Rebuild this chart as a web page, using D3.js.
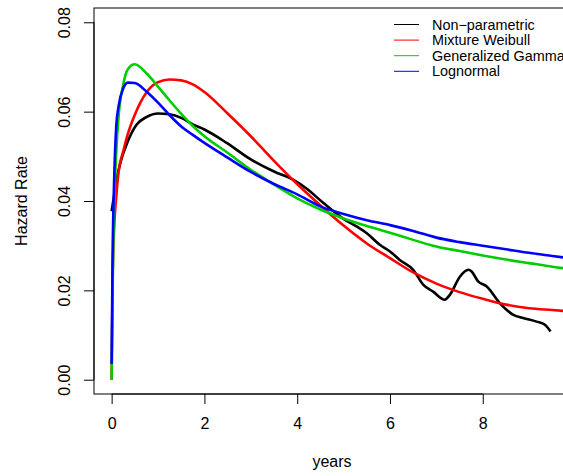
<!DOCTYPE html>
<html>
<head>
<meta charset="utf-8">
<script src="https://cdn.jsdelivr.net/npm/d3@7"></script>
<style>
  body { margin: 0; background: #fff; }
  text { font-family: "Liberation Sans", Arial, Helvetica, sans-serif; fill: #000; }
</style>
</head>
<body>
<div id="chart"></div>
<script>
// grid shared by the parametric fits
var parYears = [0, 0.02, 0.05, 0.1, 0.15, 0.25, 0.35, 0.5, 0.75, 1, 1.25, 1.5, 1.75, 2, 2.5, 3, 3.5, 4, 4.5, 5, 5.5, 6, 6.5, 7, 7.5, 8, 8.5, 9, 9.5, 10];
var weibullHazard = [0, 0.022, 0.033, 0.041, 0.0465, 0.0511, 0.055, 0.0593, 0.0643, 0.0666, 0.0672, 0.067, 0.0661, 0.0644, 0.0596, 0.0545, 0.049, 0.0438, 0.039, 0.0345, 0.0305, 0.0272, 0.024, 0.0215, 0.0196, 0.0181, 0.0168, 0.016, 0.0156, 0.0152];
var gammaHazard = [0, 0.02, 0.037, 0.051, 0.059, 0.0661, 0.0695, 0.0706, 0.0686, 0.0656, 0.0625, 0.0595, 0.0568, 0.0545, 0.0508, 0.047, 0.0437, 0.0406, 0.0381, 0.0361, 0.0344, 0.0329, 0.0313, 0.0298, 0.0288, 0.0278, 0.0269, 0.0261, 0.0253, 0.0246];
var lognormHazard = [0.0035, 0.027, 0.043, 0.0568, 0.0612, 0.0652, 0.0665, 0.0664, 0.0645, 0.062, 0.0592, 0.0567, 0.0548, 0.053, 0.0497, 0.0465, 0.0438, 0.0415, 0.0388, 0.0371, 0.0357, 0.0346, 0.0333, 0.0318, 0.0308, 0.03, 0.0292, 0.0284, 0.0277, 0.027];

// non-parametric estimate has its own grid
var npYears = [0, 0.05, 0.1, 0.2, 0.32, 0.54, 0.75, 1.0, 1.25, 1.5, 1.76, 2.0, 2.48, 3.0, 3.5, 3.91, 4.2, 4.56, 5.0, 5.28, 5.5, 5.78, 6.0, 6.21, 6.5, 6.72, 6.93, 7.18, 7.29, 7.51, 7.69, 7.76, 7.9, 8.08, 8.37, 8.66, 8.87, 9.16, 9.34, 9.46];
var npHazard = [0.0377, 0.041, 0.0444, 0.049, 0.0526, 0.0571, 0.0588, 0.0596, 0.0594, 0.0586, 0.0571, 0.056, 0.053, 0.0493, 0.0466, 0.0448, 0.0428, 0.0396, 0.036, 0.0343, 0.0328, 0.0302, 0.0287, 0.0268, 0.0246, 0.0212, 0.0197, 0.0179, 0.019, 0.0231, 0.0246, 0.0242, 0.022, 0.0209, 0.0171, 0.0145, 0.0138, 0.013, 0.0123, 0.0108];

var seriesNames = ["Non\u2212parametric", "Mixture Weibull", "Generalized Gamma", "Lognormal"];
var seriesColors = ["#000000", "#ff0000", "#00cd00", "#0000ff"];
var xTicks = [0, 2, 4, 6, 8];
var yTicks = [0, 0.02, 0.04, 0.06, 0.08];

var W = 563, H = 476;
var box = {left: 94, top: 8, right: 570, bottom: 394};

var svg = d3.select("#chart").append("svg")
	.attr("width", W).attr("height", H);

var x = d3.scaleLinear().domain([-0.38, 9.88]).range([box.left, box.right]);
var y = d3.scaleLinear().domain([-0.0032, 0.0832]).range([box.bottom, box.top]);

svg.append("clipPath").attr("id", "plotclip")
	.append("rect")
	.attr("x", box.left).attr("y", box.top)
	.attr("width", box.right - box.left).attr("height", box.bottom - box.top);

function pairs(xs, ys){
	return xs.map(function(v, i){ return [v, ys[i]]; });
}
var lines = [
	pairs(npYears, npHazard),
	pairs(parYears, weibullHazard),
	pairs(parYears, gammaHazard),
	pairs(parYears, lognormHazard)
];

var line = d3.line()
	.x(function(d){ return x(d[0]); })
	.y(function(d){ return y(d[1]); })
	.curve(d3.curveMonotoneX);

var gLines = svg.append("g").attr("clip-path", "url(#plotclip)");
for (var i = 0; i < lines.length; i++) {
	gLines.append("path")
		.attr("d", line(lines[i]))
		.attr("fill", "none")
		.attr("stroke", seriesColors[i])
		.attr("stroke-width", 2.6)
		.attr("stroke-linejoin", "round");
}

// axes, R style
var xAxis = svg.append("g")
	.attr("transform", "translate(0," + box.bottom + ")")
	.call(d3.axisBottom(x).tickValues(xTicks).tickSize(10).tickPadding(14).tickFormat(d3.format("d")));
var yAxis = svg.append("g")
	.attr("transform", "translate(" + box.left + ",0)")
	.call(d3.axisLeft(y).tickValues(yTicks).tickSize(10).tickFormat(d3.format(".2f")));

xAxis.select(".domain").remove();
yAxis.select(".domain").remove();
xAxis.selectAll("text").attr("font-size", 16).attr("font-family", null);
// tick groups are already translated, so the label just rotates in place
yAxis.selectAll("text")
	.attr("font-size", 16).attr("font-family", null)
	.attr("text-anchor", "middle")
	.attr("dy", null)
	.attr("x", 0)
	.attr("y", -24)
	.attr("transform", "rotate(-90)");
yAxis.selectAll("line").attr("stroke", "#000");
xAxis.selectAll("line").attr("stroke", "#000");

// x axis line spans first to last tick
svg.append("line")
	.attr("x1", x(0)).attr("x2", x(8))
	.attr("y1", box.bottom).attr("y2", box.bottom)
	.attr("stroke", "#000");
svg.append("line")
	.attr("x1", box.left).attr("x2", box.left)
	.attr("y1", y(0)).attr("y2", y(0.08))
	.attr("stroke", "#000");

// plot box
svg.append("rect")
	.attr("x", box.left).attr("y", box.top)
	.attr("width", box.right - box.left).attr("height", box.bottom - box.top)
	.attr("fill", "none").attr("stroke", "#000").attr("stroke-width", 1);

svg.append("text")
	.attr("x", (box.left + box.right) / 2).attr("y", 467)
	.attr("text-anchor", "middle").attr("font-size", 16)
	.text("years");
svg.append("text")
	.attr("transform", "translate(27," + (box.top + box.bottom) / 2 + ") rotate(-90)")
	.attr("text-anchor", "middle").attr("font-size", 16)
	.text("Hazard Rate");

// legend
var legend = svg.append("g");
for (var j = 0; j < seriesNames.length; j++) {
	var ly = 24.5 + j * 15.6;
	legend.append("line")
		.attr("x1", 394).attr("x2", 419)
		.attr("y1", ly).attr("y2", ly)
		.attr("stroke", seriesColors[j]).attr("stroke-width", 1);
	legend.append("text")
		.attr("x", 432).attr("y", ly + 5)
		.attr("font-size", 14.4)
		.text(seriesNames[j]);
}
</script>
</body>
</html>
